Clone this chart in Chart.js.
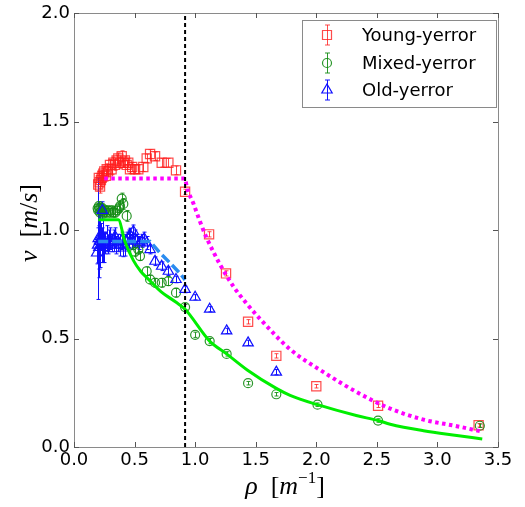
<!DOCTYPE html>
<html><head><meta charset="utf-8">
<script src="https://cdn.jsdelivr.net/npm/chart.js@4.4.1/dist/chart.umd.min.js"></script>
<style>html,body{margin:0;padding:0;background:#fff;}#wrap{width:525px;height:507px;position:relative;}</style>
</head><body><div id="wrap"><canvas id="c" width="525" height="507"></canvas></div>
<script>
// ---------- data ----------
const seriesLabels = ['Young-yerror', 'Mixed-yerror', 'Old-yerror'];
const xTickValues = [0, 0.5, 1.0, 1.5, 2.0, 2.5, 3.0, 3.5];
const yTickValues = [0, 0.5, 1.0, 1.5, 2.0];
const rhoCritical = 0.917;

const rhoYoung = [0.200,0.205,0.212,0.215,0.222,0.228,0.235,0.242,0.250,0.262,0.270,0.280,0.297,0.310,0.325,0.339,0.352,0.366,0.380,0.394,0.407,0.420,0.435,0.448,0.462,0.480,0.504,0.531,0.572,0.600,0.628,0.669,0.724,0.779,0.842,0.917,1.115,1.255,1.437,1.670,2.000,2.510,3.340];
const vYoung   = [1.21,1.24,1.22,1.20,1.23,1.24,1.25,1.26,1.27,1.25,1.28,1.27,1.30,1.28,1.31,1.30,1.32,1.33,1.31,1.34,1.31,1.32,1.30,1.31,1.28,1.29,1.28,1.28,1.29,1.33,1.35,1.34,1.31,1.31,1.275,1.176,0.98,0.80,0.577,0.42,0.28,0.19,0.10];
const errYoung = [0.03,0.03,0.03,0.03,0.03,0.025,0.025,0.025,0.025,0.025,0.025,0.025,0.025,0.025,0.025,0.025,0.025,0.025,0.025,0.025,0.02,0.02,0.02,0.02,0.02,0.02,0.02,0.02,0.02,0.02,0.02,0.02,0.02,0.02,0.02,0.012,0.012,0.012,0.01,0.01,0.008,0.008,0.008];

const rhoMixed = [0.195,0.200,0.205,0.210,0.215,0.220,0.228,0.235,0.245,0.255,0.265,0.280,0.295,0.310,0.325,0.340,0.355,0.370,0.380,0.394,0.407,0.435,0.490,0.504,0.531,0.545,0.600,0.628,0.669,0.724,0.779,0.842,0.917,1.000,1.120,1.260,1.437,1.670,2.010,2.510,3.350];
const vMixed   = [1.10,1.09,1.11,1.10,1.08,1.10,1.09,1.10,1.08,1.09,1.08,1.09,1.08,1.09,1.08,1.08,1.09,1.10,1.11,1.145,1.12,1.065,0.93,0.90,0.91,0.88,0.81,0.772,0.757,0.757,0.764,0.711,0.645,0.517,0.488,0.429,0.294,0.243,0.195,0.122,0.098];
const errMixed = [0.02,0.02,0.02,0.02,0.02,0.02,0.02,0.02,0.02,0.02,0.02,0.02,0.02,0.02,0.02,0.02,0.02,0.02,0.025,0.025,0.025,0.025,0.02,0.02,0.02,0.02,0.02,0.02,0.02,0.02,0.02,0.02,0.012,0.012,0.012,0.01,0.008,0.008,0.008,0.008,0.008];

const rhoOld = [0.187,0.195,0.200,0.205,0.210,0.215,0.220,0.228,0.234,0.240,0.250,0.260,0.270,0.280,0.290,0.300,0.315,0.330,0.339,0.350,0.365,0.380,0.395,0.407,0.420,0.435,0.450,0.462,0.475,0.490,0.505,0.520,0.540,0.560,0.580,0.600,0.628,0.669,0.724,0.779,0.842,0.917,1.000,1.120,1.260,1.437,1.670];
const vOld   = [0.894,0.93,0.96,0.92,0.95,0.947,0.97,0.93,1.09,0.95,0.92,0.94,0.96,0.93,0.95,0.96,0.94,0.95,0.97,0.93,0.94,0.93,0.95,0.917,0.93,0.95,0.96,0.978,0.95,0.993,0.96,0.95,0.94,0.95,0.96,0.94,0.91,0.856,0.833,0.81,0.772,0.726,0.69,0.635,0.535,0.48,0.345];
const errOld = [0.05,0.08,0.28,0.10,0.17,0.12,0.06,0.08,0.04,0.10,0.07,0.05,0.06,0.04,0.05,0.05,0.04,0.05,0.04,0.04,0.04,0.05,0.04,0.04,0.05,0.04,0.04,0.03,0.04,0.03,0.04,0.03,0.03,0.03,0.03,0.03,0.02,0.02,0.02,0.02,0.015,0.015,0.012,0.012,0.012,0.012,0.012];

// fitted model curves
const rhoFitYoung = [0.25,0.917,0.93,0.985,1.04,1.096,1.15,1.206,1.316,1.426,1.536,1.784,2.06,2.334,2.61,2.885,3.16,3.35];
const vFitYoung   = [1.237,1.237,1.20,1.123,1.039,0.962,0.90,0.84,0.74,0.66,0.59,0.45,0.345,0.253,0.177,0.126,0.096,0.073];
const rhoFitMixed = [0.20,0.366,0.42,0.49,0.55,0.62,0.72,0.84,0.917,1.12,1.26,1.43,1.67,1.784,2.01,2.33,2.51,2.61,2.885,3.16,3.37];
const vFitMixed   = [1.047,1.047,0.947,0.86,0.81,0.77,0.715,0.668,0.635,0.488,0.429,0.355,0.27,0.238,0.195,0.145,0.122,0.105,0.075,0.053,0.037];
const rhoFitOld = [0.20,0.628,0.71,0.793,0.875,0.917];
const vFitOld   = [0.947,0.947,0.894,0.848,0.80,0.77];

const pts = (xs, ys) => xs.map((x, i) => ({x, y: ys[i]}));

const RED = 'rgba(255,30,30,0.8)', GREEN = 'rgba(20,140,20,0.9)', BLUE = '#1010ff';

// ---------- plugins ----------
const errorBars = {
  id: 'errorBars',
  beforeDatasetsDraw(chart) {
    const {ctx, scales: {x, y}} = chart;
    chart.data.datasets.forEach((ds) => {
      if (!ds.yerr) return;
      ctx.save();
      ctx.strokeStyle = ds.borderColor; ctx.lineWidth = 1;
      ds.data.forEach((p, j) => {
        const e = ds.yerr[j];
        const px = Math.round(x.getPixelForValue(p.x)) + 0.5;
        const y1 = y.getPixelForValue(p.y + e), y2 = y.getPixelForValue(p.y - e);
        ctx.beginPath();
        ctx.moveTo(px, y1); ctx.lineTo(px, y2);
        ctx.moveTo(px - 2, y1); ctx.lineTo(px + 2, y1);
        ctx.moveTo(px - 2, y2); ctx.lineTo(px + 2, y2);
        ctx.stroke();
      });
      ctx.restore();
    });
  }
};

function drawMarker(ctx, style, x, y, color) {
  ctx.save(); ctx.strokeStyle = color; ctx.lineWidth = 1.2; ctx.beginPath();
  if (style === 'rect') { ctx.rect(x - 4.5, y - 4.5, 9, 9); }
  else if (style === 'circle') { ctx.arc(x, y, 4.5, 0, Math.PI * 2); }
  else { ctx.moveTo(x, y - 6); ctx.lineTo(x + 5.2, y + 3); ctx.lineTo(x - 5.2, y + 3); ctx.closePath(); }
  ctx.stroke();
  ctx.beginPath(); ctx.lineWidth = 1;
  ctx.moveTo(x + 0.5, y - 10); ctx.lineTo(x + 0.5, y + 10);
  ctx.moveTo(x - 2, y - 10); ctx.lineTo(x + 3, y - 10);
  ctx.moveTo(x - 2, y + 10); ctx.lineTo(x + 3, y + 10);
  ctx.stroke();
  ctx.restore();
}

function drawRich(ctx, parts, cx, cy) {
  let total = 0;
  parts.forEach(p => { ctx.font = p.font; p.w = ctx.measureText(p.t).width; total += p.w; });
  let x = cx - total / 2;
  ctx.textBaseline = 'alphabetic'; ctx.textAlign = 'left'; ctx.fillStyle = '#000';
  parts.forEach(p => { ctx.font = p.font; ctx.fillText(p.t, x, cy + (p.dy || 0)); x += p.w; });
}

const frameAndDecor = {
  id: 'frameAndDecor',
  afterDraw(chart) {
    const {ctx, chartArea: a, scales: {x, y}} = chart;
    ctx.save();
    // frame
    ctx.strokeStyle = '#8a8a8a'; ctx.lineWidth = 1;
    ctx.strokeRect(Math.round(a.left) + 0.5, Math.round(a.top) + 0.5, Math.round(a.right - a.left), Math.round(a.bottom - a.top));
    // inward ticks on all four sides
    ctx.strokeStyle = '#555'; ctx.beginPath();
    xTickValues.forEach(v => {
      const px = Math.round(x.getPixelForValue(v)) + 0.5;
      ctx.moveTo(px, a.bottom); ctx.lineTo(px, a.bottom - 5);
      ctx.moveTo(px, a.top); ctx.lineTo(px, a.top + 5);
    });
    yTickValues.forEach(v => {
      const py = Math.round(y.getPixelForValue(v)) + 0.5;
      ctx.moveTo(a.left, py); ctx.lineTo(a.left + 5, py);
      ctx.moveTo(a.right, py); ctx.lineTo(a.right - 5, py);
    });
    ctx.stroke();
    // legend
    const lx0 = 302, ly0 = 20, lx1 = 496, ly1 = 107;
    ctx.fillStyle = '#fff'; ctx.fillRect(lx0, ly0, lx1 - lx0, ly1 - ly0);
    ctx.strokeStyle = '#8a8a8a'; ctx.strokeRect(lx0 + 0.5, ly0 + 0.5, lx1 - lx0, ly1 - ly0);
    const styles = ['rect', 'circle', 'triangle'], cols = [RED, GREEN, BLUE], rows = [35, 63, 90];
    ctx.font = '18px "DejaVu Sans"'; ctx.textBaseline = 'middle'; ctx.textAlign = 'left';
    seriesLabels.forEach((lab, i) => {
      drawMarker(ctx, styles[i], 327, rows[i], cols[i]);
      ctx.fillStyle = '#000'; ctx.font = '18px "DejaVu Sans"'; ctx.textBaseline = 'middle';
      ctx.fillText(lab, 362, rows[i] + 1);
    });
    // axis titles
    const it = 'italic 26px "Liberation Serif"', up = '26px "Liberation Serif"', sup = '17px "Liberation Serif"';
    drawRich(ctx, [{t: 'ρ', font: it}, {t: '  [', font: up}, {t: 'm', font: it}, {t: '−1', font: sup, dy: -11}, {t: ']', font: up}], 285, 494);
    ctx.save(); ctx.translate(37, 223); ctx.rotate(-Math.PI / 2);
    drawRich(ctx, [{t: 'v', font: it}, {t: '  [', font: up}, {t: 'm', font: it}, {t: '/', font: up}, {t: 's', font: it}, {t: ']', font: up}], 0, 0);
    ctx.restore();
    ctx.restore();
  }
};

// ---------- chart ----------
new Chart(document.getElementById('c'), {
  type: 'scatter',
  data: {
    datasets: [
      {type: 'line', label: 'crit', data: [{x: rhoCritical, y: 0}, {x: rhoCritical, y: 2}], borderColor: '#000', borderWidth: 2, borderDash: [4, 3], pointRadius: 0, order: 0},
      {type: 'line', label: 'fitYoung', data: pts(rhoFitYoung, vFitYoung), borderColor: '#ff00ff', borderWidth: 4, borderDash: [3.5, 3.5], pointRadius: 0, cubicInterpolationMode: 'monotone', order: 1},
      {type: 'line', label: 'fitMixed', data: pts(rhoFitMixed, vFitMixed), borderColor: '#00ee00', borderWidth: 3, pointRadius: 0, cubicInterpolationMode: 'monotone', order: 2},
      {type: 'line', label: 'fitOld', data: pts(rhoFitOld, vFitOld), borderColor: '#2a8cf0', borderWidth: 3.5, borderDash: [10, 4], pointRadius: 0, order: 3},
      {label: seriesLabels[0], data: pts(rhoYoung, vYoung), yerr: errYoung, pointStyle: 'rect', pointRadius: 6.5, borderColor: RED, backgroundColor: 'rgba(0,0,0,0)', borderWidth: 1.2, order: 6},
      {label: seriesLabels[1], data: pts(rhoMixed, vMixed), yerr: errMixed, pointStyle: 'circle', pointRadius: 4.5, borderColor: GREEN, backgroundColor: 'rgba(0,0,0,0)', borderWidth: 1.2, order: 5},
      {label: seriesLabels[2], data: pts(rhoOld, vOld), yerr: errOld, pointStyle: 'triangle', pointRadius: 6, borderColor: BLUE, backgroundColor: 'rgba(0,0,0,0)', borderWidth: 1.2, order: 4}
    ]
  },
  options: {
    responsive: false, animation: false, devicePixelRatio: 1,
    layout: {padding: {top: 10, right: 27, left: 0, bottom: 0}},
    plugins: {legend: {display: false}, tooltip: {enabled: false}},
    scales: {
      x: {
        type: 'linear', min: 0, max: 3.5,
        afterBuildTicks: s => { s.ticks = xTickValues.map(v => ({value: v})); },
        afterFit: s => { s.height = 60; },
        ticks: {callback: v => v.toFixed(1), color: '#000', padding: 4, maxRotation: 0, autoSkip: false, font: {family: 'DejaVu Sans', size: 18, lineHeight: 1}},
        grid: {display: false, drawTicks: false}, border: {display: false}
      },
      y: {
        type: 'linear', min: 0, max: 2,
        afterBuildTicks: s => { s.ticks = yTickValues.map(v => ({value: v})); },
        afterFit: s => { s.width = 74; },
        ticks: {callback: v => v.toFixed(1), color: '#000', padding: 4, autoSkip: false, font: {family: 'DejaVu Sans', size: 18, lineHeight: 1}},
        grid: {display: false, drawTicks: false}, border: {display: false}
      }
    }
  },
  plugins: [errorBars, frameAndDecor]
});
</script></body></html>
